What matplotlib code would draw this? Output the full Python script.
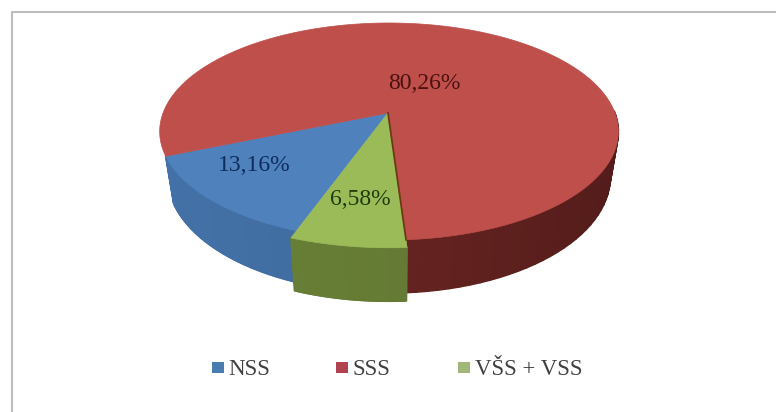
import numpy as np
import matplotlib
matplotlib.use("Agg")
import matplotlib.pyplot as plt
from matplotlib.collections import PolyCollection
from matplotlib.colors import to_rgb
from matplotlib.patches import Rectangle

categories = ["NSS", "SSS", "VŠS + VSS"]
shares = [13.16, 80.26, 6.58]
labels = ["13,16%", "80,26%", "6,58%"]

top_colors = ["#4F81BD", "#BE4F4B", "#9BBB59"]
wall_colors = [("#4472A8", "#3A6394"), ("#7B2B28", "#521C1A"), ("#6B8238", "#5F7532")]
label_colors = ["#0F2C5C", "#4A1210", "#1F3D0C"]
explode = [1.0, 1.0, 1.05]

START = -110.1
PERSP = 0.1705


# pie circle seen in perspective, px coordinates of the picture
def top_xy(t, r=1.0):
    u, v = r * np.cos(t), r * np.sin(t)
    w = 1 + PERSP * v
    return 389 + 226 * u / w, (113 - 86.1 * v) / w


def bottom_xy(t, r=1.0):
    u, v = r * np.cos(t), r * np.sin(t)
    w = 1 + PERSP * v
    return 389 + 218 * u / w, (157 - 86 * v) / w


fig = plt.figure(figsize=(7.76, 4.12), dpi=100)
ax = fig.add_axes([0, 0, 1, 1])
ax.set_xlim(0, 776)
ax.set_ylim(412, 0)
ax.axis("off")

# frame only shows on the top and left
ax.plot([12, 12, 776], [412, 12, 12], color="#BDBDBD", lw=1.5)

edges = START - np.cumsum([0] + shares) * 3.6
spans = [np.radians(np.linspace(edges[i], edges[i + 1], 120)) for i in range(3)]

# outer walls, shaded along the arc
for i in [1, 0, 2]:
    t = spans[i]
    t = t[np.sin(t) < 0.05]
    if i == 1:
        # only the part of the red wall right of the front is visible
        t = t[np.cos(t) > 0]
    xt, yt = top_xy(t, explode[i])
    xb, yb = bottom_xy(t, explode[i])
    quads = [[(xt[k], yt[k]), (xt[k + 1], yt[k + 1]), (xb[k + 1], yb[k + 1]), (xb[k], yb[k])]
             for k in range(len(t) - 1)]
    c0, c1 = np.array(to_rgb(wall_colors[i][0])), np.array(to_rgb(wall_colors[i][1]))
    f = (1 + np.cos(t[:-1])) / 2
    cols = [c0 + (c1 - c0) * a for a in f]
    ax.add_collection(PolyCollection(quads, facecolors=cols, edgecolors=cols, linewidths=1.2))

# slice tops
for i in range(3):
    xt, yt = top_xy(spans[i], explode[i])
    ax.fill(np.r_[388, xt], np.r_[113, yt], color=top_colors[i], lw=0.5, zorder=3)

# thin cut face between red and green
xe, ye = top_xy(spans[2][0], 1.0)
ax.plot([388, xe], [113, ye], color="#6B3A12", lw=1.3, zorder=4)

label_x = [254, 424, 360]
label_y = [165, 83, 199]
for i in range(3):
    ax.text(label_x[i], label_y[i], labels[i], color=label_colors[i], family="Liberation Serif",
            fontsize=17, ha="center", va="center", zorder=5)

# legend
key_x = [212, 336, 458]
text_x = [228, 353, 475]
key_colors = ["#4A7DAF", "#B0434F", "#A2B878"]
for i in range(3):
    ax.add_patch(Rectangle((key_x[i], 362), 11.5, 11, color=key_colors[i], lw=0))
    ax.text(text_x[i], 375, categories[i], color="#404040", family="Liberation Serif",
            fontsize=16.5, ha="left", va="baseline")

fig.savefig("out.png", dpi=100)
